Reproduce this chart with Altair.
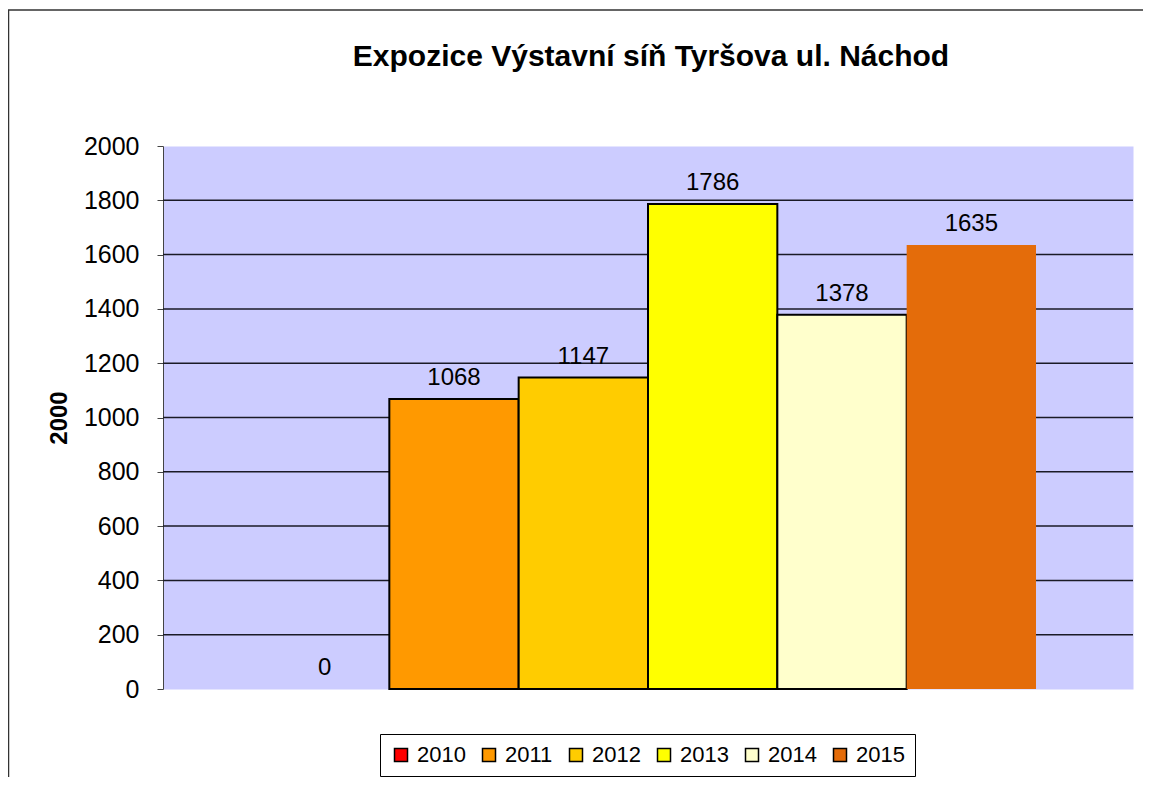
import altair as alt
import pandas as pd

years = ["2010", "2011", "2012", "2013", "2014", "2015"]
visitors = [0, 1068, 1147, 1786, 1378, 1635]
bar_colors = ["#FF0000", "#FF9900", "#FFCC00", "#FFFF00", "#FFFFCC", "#E46C0A"]
y_ticks = [0, 200, 400, 600, 800, 1000, 1200, 1400, 1600, 1800, 2000]
grid_values = [200, 400, 600, 800, 1000, 1200, 1400, 1600, 1800]
chart_title = "Expozice Výstavní síň Tyršova ul. Náchod"
y_title = "2000"

FONT = "Liberation Sans"

df = pd.DataFrame({"year": years, "value": visitors})

x_enc = alt.X("year:N", scale=alt.Scale(paddingInner=0, paddingOuter=0.75), axis=None)
y_scale = alt.Scale(domain=[0, 2000], nice=False)
y_axis = alt.Axis(values=y_ticks, grid=False, format="d")

grid = alt.Chart(pd.DataFrame({"g": grid_values})).mark_rule(
    color="#1a1a26", strokeWidth=1.5
).encode(y=alt.Y("g:Q", scale=y_scale, title=y_title, axis=y_axis))

bars = alt.Chart(df).mark_bar(stroke="black").encode(
    x=x_enc,
    y=alt.Y("value:Q", scale=y_scale, title=y_title, axis=y_axis),
    color=alt.Color(
        "year:N",
        scale=alt.Scale(domain=years, range=bar_colors),
        legend=alt.Legend(
            title=None, orient="none", legendX=217, legendY=588,
            direction="horizontal", columns=6,
            symbolType="square", symbolSize=169,
            symbolStrokeColor="black", symbolStrokeWidth=1.5,
            labelFontSize=22, labelFont=FONT, labelColor="black",
            labelOffset=5, columnPadding=12, padding=10,
            strokeColor="black", fillColor="white",
        ),
    ),
    strokeWidth=alt.condition("datum.year == '2010' || datum.year == '2015'",
                              alt.value(0), alt.value(2)),
)

labels = alt.Chart(df).mark_text(
    dy=-14, baseline="alphabetic", align="center", fontSize=24, font=FONT, color="black"
).encode(x=x_enc, y=alt.Y("value:Q", scale=y_scale, title=y_title, axis=y_axis),
         text="value:Q")

title = alt.Chart(pd.DataFrame({"t": [chart_title]})).mark_text(
    fontSize=30, fontWeight="bold", font=FONT, align="center",
    baseline="alphabetic", color="black"
).encode(text="t:N", x=alt.value(488), y=alt.value(-80))

border = alt.Chart(pd.DataFrame({"b": [0]})).mark_rect(
    fill="transparent", stroke="#333333", strokeWidth=1.5
).encode(x=alt.value(-154.5), x2=alt.value(1000),
         y=alt.value(-136), y2=alt.value(700))

chart = alt.layer(grid, bars, labels, title, border).properties(
    width=970, height=543,
    padding={"left": 155, "top": 138, "right": 10, "bottom": 88},
    autosize=alt.AutoSizeParams(type="none"),
    background="white",
).configure_view(
    fill="#CCCCFF", stroke="transparent"
).configure_axis(
    labelFontSize=25, labelFont=FONT, labelColor="black",
    tickSize=6, tickColor="#444444", domainColor="#444444",
    labelPadding=18,
    titleFontSize=24, titleFont=FONT, titleFontWeight="bold", titleColor="black",
    titleAngle=270, titleX=-104, titleY=271.5,
    titleAlign="center", titleBaseline="middle",
)

chart.save("out.html", embed_options={"renderer": "svg", "actions": False})
